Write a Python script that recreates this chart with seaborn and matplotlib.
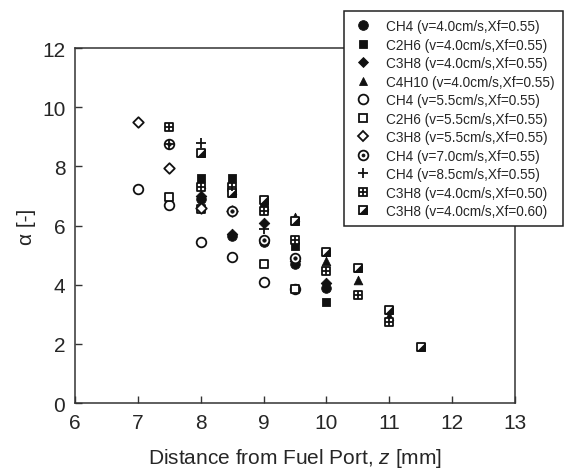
import numpy as np
import pandas as pd
import seaborn as sns
from matplotlib import pyplot as plt
from matplotlib.lines import Line2D
from matplotlib.path import Path
from matplotlib.legend_handler import HandlerTuple

# values
ch4_40_z = [8, 8.5, 9, 9.5, 10]
ch4_40_a = [6.9, 5.65, 5.45, 4.7, 3.9]
c2h6_40_z = [8, 8.5, 9, 9.5, 10]
c2h6_40_a = [7.6, 7.6, 6.6, 5.3, 3.4]
c3h8_40_z = [8, 8.5, 9, 9.5, 10]
c3h8_40_a = [7.0, 5.7, 6.1, 4.8, 4.05]
c4h10_40_z = [8, 8.5, 9, 9.5, 10, 10.5, 11]
c4h10_40_a = [7.4, 7.2, 6.7, 6.3, 4.8, 4.15, 2.95]
ch4_55_z = [7, 7.5, 8, 8.5, 9, 9.5]
ch4_55_a = [7.25, 6.7, 5.45, 4.95, 4.1, 3.85]
c2h6_55_z = [7.5, 8, 9, 9.5]
c2h6_55_a = [6.95, 6.55, 4.7, 3.85]
c3h8_55_z = [7, 7.5, 8, 8.5]
c3h8_55_a = [9.5, 7.95, 6.6, 6.5]
ch4_70_z = [7.5, 8.5, 9, 9.5]
ch4_70_a = [8.75, 6.5, 5.5, 4.9]
ch4_85_z = [7.5, 8, 9]
ch4_85_a = [8.75, 8.8, 5.9]
c3h8_xf50_z = [7.5, 8, 8.5, 9, 9.5, 10, 10.5, 11]
c3h8_xf50_a = [9.35, 7.3, 7.3, 6.5, 5.5, 4.45, 3.65, 2.75]
c3h8_xf60_z = [8, 8.5, 9, 9.5, 10, 10.5, 11, 11.5]
c3h8_xf60_a = [8.45, 7.1, 6.85, 6.15, 5.1, 4.55, 3.15, 1.9]

labels = ['CH4 (v=4.0cm/s,Xf=0.55)', 'C2H6 (v=4.0cm/s,Xf=0.55)',
          'C3H8 (v=4.0cm/s,Xf=0.55)', 'C4H10 (v=4.0cm/s,Xf=0.55)',
          'CH4 (v=5.5cm/s,Xf=0.55)', 'C2H6 (v=5.5cm/s,Xf=0.55)',
          'C3H8 (v=5.5cm/s,Xf=0.55)', 'CH4 (v=7.0cm/s,Xf=0.55)',
          'CH4 (v=8.5cm/s,Xf=0.55)', 'C3H8 (v=4.0cm/s,Xf=0.50)',
          'C3H8 (v=4.0cm/s,Xf=0.60)']

sns.set_style("ticks")
plt.rcParams['font.family'] = ['Liberation Sans', 'DejaVu Sans']
plt.rcParams['mathtext.fontset'] = 'custom'
plt.rcParams['mathtext.it'] = 'Liberation Sans:italic'
plt.rcParams['mathtext.rm'] = 'Liberation Sans'
plt.rcParams['xtick.direction'] = 'in'
plt.rcParams['ytick.direction'] = 'in'

fig = plt.figure(figsize=(5.66, 4.77), dpi=100)
ax = fig.add_axes([0.1325, 0.153, 0.7775, 0.744])

# lower-right half of a square, for the half filled marker
tri = Path([(1, 1), (1, -1), (-1, -1), (1, 1)],
           [Path.MOVETO, Path.LINETO, Path.LINETO, Path.CLOSEPOLY])

S = 48
lw = 1.3
k = '#111111'


def pts(z, a):
    return pd.DataFrame({'z': z, 'a': a})


def filled(z, a, m, s=S):
    sns.scatterplot(data=pts(z, a), x='z', y='a', marker=m, s=s, color=k,
                    edgecolor=k, linewidth=0.6, ax=ax, zorder=3)


def hollow(z, a, m, s=S):
    ax.scatter(z, a, marker=m, s=s, facecolors='white', edgecolors=k,
               linewidths=lw, zorder=3)


def stroke(z, a, m, s=S):
    sns.scatterplot(data=pts(z, a), x='z', y='a', marker=m, s=s, color=k,
                    linewidth=lw, ax=ax, zorder=4)


filled(ch4_40_z, ch4_40_a, 'o')
filled(c2h6_40_z, c2h6_40_a, 's', S * 0.85)
filled(c3h8_40_z, c3h8_40_a, 'D', S * 0.6)
filled(c4h10_40_z, c4h10_40_a, '^', S * 0.8)
hollow(ch4_55_z, ch4_55_a, 'o')
hollow(c2h6_55_z, c2h6_55_a, 's', S * 0.85)
hollow(c3h8_55_z, c3h8_55_a, 'D', S * 0.6)
hollow(ch4_70_z, ch4_70_a, 'o')
filled(ch4_70_z, ch4_70_a, 'o', S * 0.12)
stroke(ch4_85_z, ch4_85_a, '+', S * 1.3)
hollow(c3h8_xf50_z, c3h8_xf50_a, 's', S * 0.85)
stroke(c3h8_xf50_z, c3h8_xf50_a, '+', S * 0.85)
hollow(c3h8_xf60_z, c3h8_xf60_a, 's', S * 0.85)
filled(c3h8_xf60_z, c3h8_xf60_a, tri, S * 0.85)

ax.set_xlim(6, 13)
ax.set_ylim(0, 12)
ax.set_xticks(range(6, 14))
ax.set_yticks(range(0, 13, 2))
ax.tick_params(labelsize=15, length=5, width=1, color='#333333', pad=7)
for sp in ax.spines.values():
    sp.set_visible(True)
    sp.set_color('#333333')
    sp.set_linewidth(1.1)
ax.set_xlabel('Distance from Fuel Port, $z$ [mm]', fontsize=15, labelpad=10)
ax.set_ylabel('α [-]', fontsize=15, labelpad=4)

ms = 7


def L(m, fc=k, mew=0.6, size=ms):
    return Line2D([], [], ls='none', marker=m, markersize=size,
                  markerfacecolor=fc, markeredgecolor=k, markeredgewidth=mew)


handles = [
    L('o'), L('s', size=ms * 0.92), L('D', size=ms * 0.75), L('^', size=ms * 0.85),
    L('o', 'white', lw), L('s', 'white', lw, ms * 0.92), L('D', 'white', lw, ms * 0.75),
    (L('o', 'white', lw), L('o', k, 0.6, ms * 0.3)),
    L('+', k, lw, ms * 1.1),
    (L('s', 'white', lw, ms * 0.92), L('+', k, lw, ms * 0.92)),
    (L('s', 'white', lw, ms * 0.92), L(tri, k, 0.6, ms * 0.92)),
]
leg = fig.legend(handles, labels, loc='upper right',
                 bbox_to_anchor=(0.995, 0.975), fontsize=9.8,
                 handler_map={tuple: HandlerTuple(ndivide=1, pad=0)},
                 frameon=True, fancybox=False, framealpha=1,
                 edgecolor='#222222', borderpad=0.6, labelspacing=0.33,
                 handlelength=1.6, handletextpad=0.9, borderaxespad=0)
leg.get_frame().set_linewidth(1.1)

fig.savefig('out.png', dpi=100)
